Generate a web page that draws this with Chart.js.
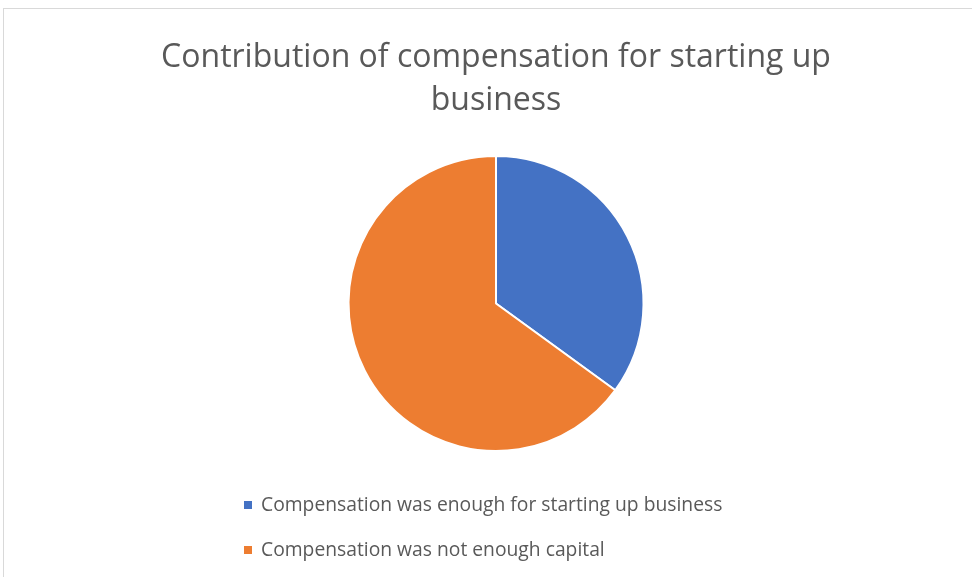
<!DOCTYPE html>
<html>
<head>
<meta charset="utf-8">
<script src="https://cdn.jsdelivr.net/npm/chart.js@4/dist/chart.umd.min.js"></script>
<style>
  html, body { margin: 0; padding: 0; background: #ffffff; overflow: hidden; }
  #frame { position: absolute; left: 3px; top: 8px; width: 1000px; height: 600px; border: 1px solid #d9d9d9; box-sizing: border-box; }
  #wrap { position: absolute; left: 0; top: 0; width: 972px; height: 577px; }
</style>
</head>
<body>
<div id="frame"></div>
<div id="wrap"><canvas id="c" width="972" height="577"></canvas></div>
<script>
const titleLines = ['Contribution of compensation for starting up', 'business'];
const categories = ['Compensation was enough for starting up business', 'Compensation was not enough capital'];
const shares = [35, 65];
const sliceColors = ['#4472C4', '#ED7D31'];

const TEXT = '#595959';
const FONT = '"Open Sans", Lato, sans-serif';

const stackedLegend = {
  id: 'stackedLegend',
  afterDraw(chart) {
    const ctx = chart.ctx;
    const labels = chart.data.labels;
    const colors = chart.data.datasets[0].backgroundColor;
    const left = 244, firstY = 505, gap = 45, box = 8;
    ctx.save();
    ctx.font = '19.3px ' + FONT;
    ctx.textBaseline = 'middle';
    ctx.textAlign = 'left';
    labels.forEach((lab, i) => {
      const y = firstY + i * gap;
      ctx.fillStyle = colors[i];
      ctx.fillRect(left, y - box / 2, box, box);
      ctx.fillStyle = TEXT;
      ctx.fillText(lab, left + 17, y + 1);
    });
    ctx.restore();
  }
};

new Chart(document.getElementById('c'), {
  type: 'pie',
  data: {
    labels: categories,
    datasets: [{
      data: shares,
      backgroundColor: sliceColors,
      borderColor: '#ffffff',
      borderWidth: 2
    }]
  },
  options: {
    responsive: false,
    animation: false,
    layout: { padding: { left: 20, right: 0, top: 0, bottom: 125 } },
    plugins: {
      legend: { display: false },
      tooltip: { enabled: false },
      title: {
        display: true,
        text: titleLines,
        color: TEXT,
        font: { family: FONT, size: 32, weight: 'normal', lineHeight: 1.344 },
        padding: { top: 36, bottom: 33 }
      }
    }
  },
  plugins: [stackedLegend]
});
</script>
</body>
</html>
